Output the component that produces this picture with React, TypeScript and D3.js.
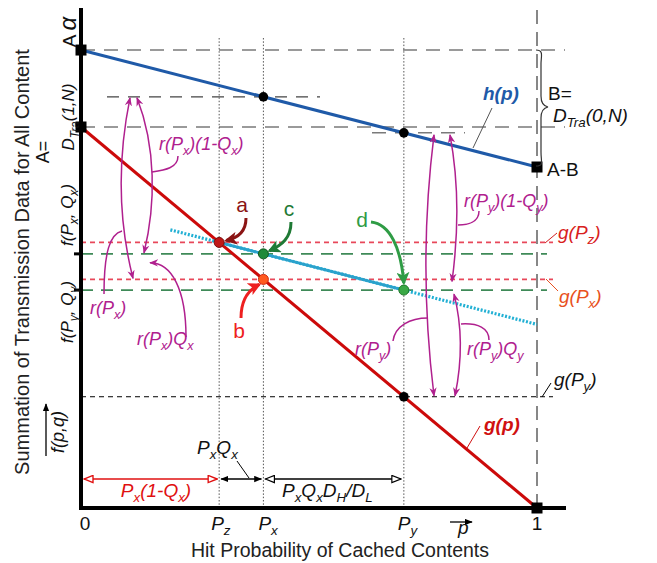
import React from 'react';
import * as d3 from 'd3';

const W = 657, H = 563;
// hit probability marks: 0, Pz, Px, Py, 1
const pMarks = [0, 0.303, 0.4, 0.708, 1];
// h(p): value at p=0 (A·α) and p=1 (A-B)
const hEnds = [1.202, 0.895];
// g(p): value at p=0 (A) and p=1 (0)
const gEnds = [1.0, 0.0];
// f values at Pz (=g(Pz)), Px (f(Px,Qx)), Py (f(Py,Qy))
const fVals = [0.697, 0.667, 0.572];
// dotted extension of f line (p range)
const fExtent = [0.196, 1];

const FONT = '"Liberation Sans", Arial, sans-serif';
const MAG = '#b0208e';

type Part = [string, boolean?];

function Rich(props: { x: number; y: number; parts: Part[]; size?: number; fill?: string; italic?: boolean; bold?: boolean; anchor?: string; rot?: boolean }) {
  const { x, y, parts, size = 19, fill = '#111', italic = true, bold = false, rot = false } = props;
  const anchor = props.anchor || (rot ? 'middle' : 'start');
  let cur = 0;
  const spans = parts.map(([t, sub], i) => {
    const target = sub ? size * 0.28 : 0;
    const dy = target - cur;
    cur = target;
    return (
      <tspan key={i} dy={dy} fontSize={sub ? size * 0.7 : size}>{t}</tspan>
    );
  });
  const tr = rot ? `translate(${x},${y}) rotate(-90)` : undefined;
  return (
    <text x={rot ? 0 : x} y={rot ? 0 : y} transform={tr} fill={fill} fontFamily={FONT}
      fontStyle={italic ? 'italic' : 'normal'} fontWeight={bold ? 'bold' : 'normal'}
      textAnchor={anchor as any} fontSize={size}>{spans}</text>
  );
}

export default function App() {
  const x = d3.scaleLinear().domain([0, 1]).range([81, 537]);
  const y = d3.scaleLinear().domain([0, 1]).range([508, 127]);
  const [, pz, px, py, p1] = pMarks;
  const h = (p: number) => hEnds[0] + (hEnds[1] - hEnds[0]) * p;
  const g = (p: number) => gEnds[0] + (gEnds[1] - gEnds[0]) * p;
  const fSlope = (fVals[2] - fVals[0]) / (py - pz);
  const f = (p: number) => fVals[0] + fSlope * (p - pz);
  const line = d3.line<[number, number]>().x(d => x(d[0])).y(d => y(d[1]));

  const X0 = x(0), X1 = x(1), Y0 = y(0);
  const gray = '#7a7a7a';

  const hline = (v: number, x1: number, x2: number, stroke: string, dash: string, w = 1.5) => (
    <line x1={x1} x2={x2} y1={y(v)} y2={y(v)} stroke={stroke} strokeDasharray={dash} strokeWidth={w} />
  );

  const yhx = y(h(px)), ygx = y(g(px)), yfx = y(fVals[1]);
  const yhy = y(h(py)), ygy = y(g(py)), yfy = y(fVals[2]);

  return (
    <svg width={W} height={H} style={{ position: 'absolute', left: 0, top: 0, background: '#fff' }}>
      <defs>
        <marker id="mag" viewBox="0 0 10 8" refX="9" refY="4" markerWidth="9" markerHeight="8" markerUnits="userSpaceOnUse" orient="auto-start-reverse">
          <path d="M0,0 L10,4 L0,8 L3,4 z" fill={MAG} />
        </marker>
        <marker id="blk" viewBox="0 0 10 8" refX="9" refY="4" markerWidth="8" markerHeight="7" markerUnits="userSpaceOnUse" orient="auto-start-reverse">
          <path d="M0,0 L10,4 L0,8 z" fill="#000" />
        </marker>
        <marker id="openRed" viewBox="0 0 12 10" refX="11" refY="5" markerWidth="11" markerHeight="9" markerUnits="userSpaceOnUse" orient="auto-start-reverse">
          <path d="M1,1 L11,5 L1,9 z" fill="#fff" stroke="#e01010" strokeWidth="1.5" />
        </marker>
        <marker id="openBlk" viewBox="0 0 12 10" refX="11" refY="5" markerWidth="11" markerHeight="9" markerUnits="userSpaceOnUse" orient="auto-start-reverse">
          <path d="M1,1 L11,5 L1,9 z" fill="#fff" stroke="#000" strokeWidth="1.3" />
        </marker>
        {[['ma', '#8b1414'], ['mb', '#ee2020'], ['mc', '#1f7a35'], ['md', '#2f9c45']].map(([id, c]) => (
          <marker key={id} id={id} viewBox="0 0 12 12" refX="10" refY="6" markerWidth="13" markerHeight="13" markerUnits="userSpaceOnUse" orient="auto">
            <path d="M0,0 L12,6 L0,12 L3,6 z" fill={c} />
          </marker>
        ))}
      </defs>

      {/* horizontal gray dashed lines */}
      {hline(hEnds[0], X0, 565, gray, '14,9')}
      {hline(gEnds[0], X0, 565, gray, '14,9')}
      {hline(h(px), 107, 320, '#444', '12,9', 1.3)}
      <line x1={372} x2={465} y1={yhy} y2={yhy} stroke={gray} strokeDasharray="14,9" strokeWidth={1.5} />

      {/* vertical dotted guides */}
      {[pz, px, py].map((p, i) => (
        <line key={i} x1={x(p)} x2={x(p)} y1={38} y2={Y0} stroke="#555" strokeDasharray="1.5,1.8" strokeWidth={1} />
      ))}
      <line x1={X1} x2={X1} y1={10} y2={Y0} stroke="#555" strokeDasharray="14,8" strokeWidth={1.4} />

      {/* colored level lines */}
      {hline(g(pz), X0, 553, '#e8485a', '5,4', 1.8)}
      {hline(g(px), X0, 553, '#e8485a', '5,4', 1.8)}
      {hline(fVals[1], X0, 547, '#3f8a58', '12,8', 1.8)}
      {hline(fVals[2], X0, 547, '#3f8a58', '12,8', 1.8)}
      {hline(g(py), X0, 553, '#000', '5,4', 1)}

      {/* h(p) and g(p) */}
      <path d={line([[0, h(0)], [1, h(1)]]) || ''} stroke="#1f5aa8" strokeWidth={3} fill="none" />
      <path d={line([[0, g(0)], [1, g(1)]]) || ''} stroke="#cc0a0a" strokeWidth={3} fill="none" />

      {/* f line */}
      <path d={line([[fExtent[0], f(fExtent[0])], [fExtent[1], f(fExtent[1])]]) || ''} stroke="#22b0d4" strokeWidth={3.2} strokeDasharray="2,1.6" fill="none" />
      <path d={line([[pz, fVals[0]], [py, fVals[2]]]) || ''} stroke="#2aa2cc" strokeWidth={2.8} fill="none" />

      {/* axes */}
      <line x1={X0} x2={X0} y1={8} y2={Y0 + 2} stroke="#000" strokeWidth={4} />
      <line x1={X0 - 2} x2={566} y1={Y0} y2={Y0} stroke="#000" strokeWidth={4} />
      <line x1={X0 - 7} x2={X0} y1={yfx} y2={yfx} stroke="#000" strokeWidth={3} />
      <line x1={X0 - 7} x2={X0} y1={yfy} y2={yfy} stroke="#000" strokeWidth={3} />

      {/* squares */}
      {[[0, hEnds[0]], [0, gEnds[0]], [1, hEnds[1]], [1, 0]].map(([p, v], i) => (
        <rect key={i} x={x(p) - 5.5} y={y(v) - 5.5} width={11} height={11} fill="#000" />
      ))}
      {/* black dots */}
      {[[px, h(px)], [py, h(py)], [py, g(py)]].map(([p, v], i) => (
        <circle key={i} cx={x(p)} cy={y(v)} r={4.8} fill="#000" />
      ))}
      {/* colored points a, c, b, d */}
      <circle cx={x(pz)} cy={y(fVals[0])} r={5} fill="#c01818" stroke="#7a0a0a" strokeWidth={1} />
      <circle cx={x(px)} cy={y(fVals[1])} r={5} fill="#1f8a3a" stroke="#0f5a22" strokeWidth={1} />
      <circle cx={x(px)} cy={y(g(px))} r={5} fill="#ff5a20" stroke="#d02a10" strokeWidth={1} />
      <circle cx={x(py)} cy={y(fVals[2])} r={5} fill="#3aa845" stroke="#1f7a2a" strokeWidth={1} />

      {/* a b c d arrows */}
      <path d={`M246,218 C246,232 238,238 ${x(pz) + 7},${y(fVals[0]) - 2}`} stroke="#8b1414" strokeWidth={3} fill="none" markerEnd="url(#ma)" />
      <text x={242} y={212} fontSize={21} fill="#8b1414" fontFamily={FONT} textAnchor="middle">a</text>
      <path d={`M291,222 C291,238 282,245 ${x(px) + 6},${y(fVals[1]) - 3}`} stroke="#1f7a35" strokeWidth={3} fill="none" markerEnd="url(#mc)" />
      <text x={289} y={216} fontSize={21} fill="#1f7a35" fontFamily={FONT} textAnchor="middle">c</text>
      <path d={`M241,318 C241,300 248,290 ${x(px) - 4},${y(g(px)) + 5}`} stroke="#ee2020" strokeWidth={3} fill="none" markerEnd="url(#mb)" />
      <text x={239} y={338} fontSize={21} fill="#ee2020" fontFamily={FONT} textAnchor="middle">b</text>
      <path d={`M371,222 C390,224 401,248 ${x(py)},${y(fVals[2]) - 7}`} stroke="#2f9c45" strokeWidth={3} fill="none" markerEnd="url(#md)" />
      <text x={362} y={227} fontSize={21} fill="#2f9c45" fontFamily={FONT} textAnchor="middle">d</text>

      {/* magenta arcs */}
      <g stroke={MAG} strokeWidth={1.5} fill="none">
        <path d={`M130,${yhx + 1} C118,${yhx + 60} 118,${ygx - 60} 133,${ygx - 1}`} markerStart="url(#mag)" markerEnd="url(#mag)" />
        <path d={`M137,${yhx + 1} C156,${yhx + 50} 156,${yfx - 50} 144,${yfx - 1}`} markerStart="url(#mag)" markerEnd="url(#mag)" />
        <path d={`M186,337 C186,290 172,263 150,${yfx + 9}`} markerEnd="url(#mag)" />
        <path d="M104,294 C104,252 110,234 122,231" />
        <path d="M178,156 C178,168 165,170 152,172" />
        <path d={`M434,${yhy + 2} C423,${yhy + 90} 423,${ygy - 90} 434,${ygy - 1}`} markerStart="url(#mag)" markerEnd="url(#mag)" />
        <path d={`M450,${yhy + 2} C459,${yhy + 50} 459,${ygx - 50} 452,${ygx + 2}`} markerStart="url(#mag)" markerEnd="url(#mag)" />
        <path d={`M454,${yfy + 4} C462,${yfy + 35} 462,${ygy - 35} 455,${ygy - 1}`} markerStart="url(#mag)" markerEnd="url(#mag)" />
        <path d="M479,211 C479,222 468,225 458,225" />
        <path d="M393,341 C395,326 410,318 428,318" />
        <path d="M489,340 C489,328 478,323 461,324" />
      </g>

      {/* magenta labels */}
      <Rich x={159} y={150} size={18} fill={MAG} parts={[['r(P'], ['x', true], [')(1-Q'], ['x', true], [')']]} />
      <Rich x={90} y={314} size={18} fill={MAG} parts={[['r(P'], ['x', true], [')']]} />
      <Rich x={137} y={345} size={18} fill={MAG} parts={[['r(P'], ['x', true], [')Q'], ['x', true]]} />
      <Rich x={464} y={207} size={18} fill={MAG} parts={[['r(P'], ['y', true], [')(1-Q'], ['y', true], [')']]} />
      <Rich x={355} y={355} size={18} fill={MAG} parts={[['r(P'], ['y', true], [')']]} />
      <Rich x={467} y={355} size={18} fill={MAG} parts={[['r(P'], ['y', true], [')Q'], ['y', true]]} />

      {/* right side labels */}
      <Rich x={483} y={100} size={19} bold fill="#1f5aa8" parts={[['h(p)']]} />
      <line x1={492} y1={108} x2={473} y2={148} stroke="#555" strokeWidth={1} />
      <path d="M536,50 C544,50 541,56 541,64 L541,96 C541,102 543,106 548,107 C543,108 541,112 541,118 L541,152 C541,162 544,166 536,166" stroke="#333" strokeWidth={1.2} fill="none" />
      <Rich x={548} y={100} size={19} italic={false} parts={[['B=']]} />
      <Rich x={553} y={122} size={19} parts={[['D'], ['Tra', true], ['(0,N)']]} />
      <Rich x={547} y={176} size={19} italic={false} parts={[['A-B']]} />
      <line x1={545} y1={243} x2={557} y2={233} stroke="#d02020" strokeWidth={1} />
      <Rich x={558} y={239} size={19} fill="#d82020" parts={[['g(P'], ['z', true], [')']]} />
      <line x1={546} y1={279} x2={558} y2={291} stroke="#e85020" strokeWidth={1} />
      <Rich x={559} y={303} size={19} fill="#e85020" parts={[['g(P'], ['x', true], [')']]} />
      <line x1={542} y1={397} x2={551} y2={383} stroke="#000" strokeWidth={1} />
      <Rich x={554} y={386} size={19} parts={[['g(P'], ['y', true], [')']]} />
      <Rich x={484} y={431} size={19} bold fill="#d01010" parts={[['g(p)']]} />
      <line x1={480} y1={426} x2={467} y2={448} stroke="#d01010" strokeWidth={1} />

      {/* bottom interval arrows */}
      <line x1={X0 + 3} x2={x(pz) - 2} y1={479} y2={479} stroke="#e01010" strokeWidth={1.5} markerStart="url(#openRed)" markerEnd="url(#openRed)" />
      <line x1={x(pz) + 2} x2={x(px) - 2} y1={479} y2={479} stroke="#000" strokeWidth={1.5} markerStart="url(#blk)" markerEnd="url(#blk)" />
      <line x1={x(px) + 2} x2={x(py) - 3} y1={479} y2={479} stroke="#000" strokeWidth={1.5} markerStart="url(#openBlk)" markerEnd="url(#openBlk)" />
      <Rich x={156} y={497} size={19} fill="#e01010" anchor="middle" parts={[['P'], ['x', true], ['(1-Q'], ['x', true], [')']]} />
      <Rich x={197} y={454} size={19} parts={[['P'], ['x', true], ['Q'], ['x', true]]} />
      <line x1={237} y1={461} x2={249} y2={478} stroke="#000" strokeWidth={1} />
      <Rich x={282} y={497} size={19} parts={[['P'], ['x', true], ['Q'], ['x', true], ['D'], ['H', true], ['/D'], ['L', true]]} />

      {/* x tick labels */}
      <text x={85} y={530} fontSize={19} fontFamily={FONT} textAnchor="middle" fill="#111">0</text>
      <Rich x={x(pz) - 8} y={530} size={19} parts={[['P'], ['z', true]]} />
      <Rich x={x(px) - 5} y={530} size={19} parts={[['P'], ['x', true]]} />
      <Rich x={x(py) - 6} y={530} size={19} parts={[['P'], ['y', true]]} />
      <text x={x(p1)} y={530} fontSize={19} fontFamily={FONT} textAnchor="middle" fill="#111">1</text>
      <line x1={450} x2={472} y1={522} y2={522} stroke="#000" strokeWidth={1.3} markerEnd="url(#blk)" />
      <Rich x={458} y={534} size={19} parts={[['p']]} />
      <text x={340} y={557} fontSize={19.5} fontFamily={FONT} textAnchor="middle" fill="#222">Hit Probability of Cached Contents</text>

      {/* y side labels (rotated) */}
      <text transform="translate(29,262) rotate(-90)" fontSize={20} fontFamily={FONT} textAnchor="middle" fill="#222">Summation of Transmission Data for All Content</text>
      <text transform="translate(76,32) rotate(-90)" fontFamily={FONT} fill="#111" textAnchor="middle">
        <tspan fontSize={19} fontStyle="normal">A </tspan>
        <tspan fontSize={24} fontStyle="italic">α</tspan>
      </text>
      <Rich rot x={74} y={117} size={17} parts={[['D'], ['Tra', true], ['(1,N)']]} />
      <Rich rot x={49} y={152} size={18} italic={false} parts={[['A=']]} />
      <Rich rot x={73} y={215} size={17} parts={[['f(P'], ['x', true], [', Q'], ['x', true], [')']]} />
      <Rich rot x={73} y={312} size={17} parts={[['f(P'], ['y', true], [', Q'], ['y', true], [')']]} />
      <Rich rot x={64} y={432} size={18} parts={[['f(p,q)']]} />
      <line x1={46} x2={46} y1={456} y2={404} stroke="#000" strokeWidth={1.3} markerEnd="url(#blk)" />
    </svg>
  );
}
